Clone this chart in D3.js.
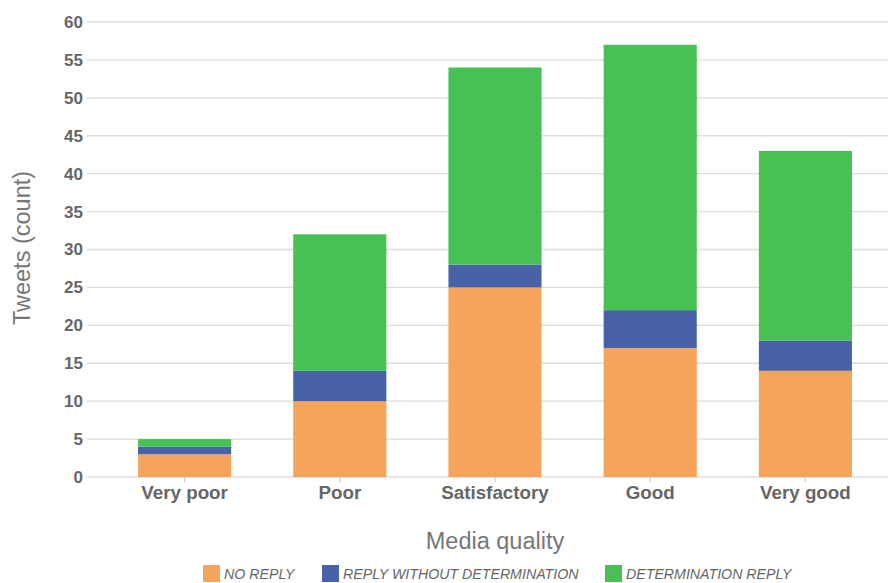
<!DOCTYPE html>
<html><head><meta charset="utf-8">
<script src="https://cdn.jsdelivr.net/npm/d3@7"></script>
<style>body{margin:0;background:#fff;}svg{display:block;font-family:"Liberation Sans",Arial,sans-serif;}</style>
</head><body><svg id="c" width="888" height="583"></svg>
<script>
const categories = ["Very poor","Poor","Satisfactory","Good","Very good"];
const noReply = [3,10,25,17,14];
const replyWithoutDetermination = [1,4,3,5,4];
const determinationReply = [1,18,26,35,25];
const seriesNames = ["NO REPLY","REPLY WITHOUT DETERMINATION","DETERMINATION REPLY"];
const seriesColors = ["#F6A35B","#4762A7","#47C153"];
const yTicks = [0,5,10,15,20,25,30,35,40,45,50,55,60];

const svg = d3.select("#c");
const x = d3.scaleBand().domain(categories).range([107,883]).paddingInner(0.4).paddingOuter(0.2);
const y = d3.scaleLinear().domain([0,60]).range([477,22]);

svg.append("g").selectAll("line").data(yTicks).join("line")
  .attr("x1",87).attr("x2",888).attr("y1",d=>y(d)).attr("y2",d=>y(d))
  .attr("stroke","#dcdcdc").attr("stroke-width",1.3);

svg.append("g").selectAll("text").data(yTicks).join("text")
  .attr("x",83).attr("y",d=>y(d)).attr("dy","0.35em").attr("text-anchor","end")
  .attr("fill","#666").attr("font-weight","bold").attr("font-size",17).text(d=>d);

const rows = categories.map((c,i)=>({cat:c, s0:noReply[i], s1:replyWithoutDetermination[i], s2:determinationReply[i]}));
const stack = d3.stack().keys(["s0","s1","s2"])(rows);
svg.append("g").selectAll("g").data(stack).join("g").attr("fill",(d,i)=>seriesColors[i])
  .selectAll("rect").data(d=>d).join("rect")
  .attr("x",d=>x(d.data.cat)).attr("width",x.bandwidth())
  .attr("y",d=>y(d[1])).attr("height",d=>y(d[0])-y(d[1]));

svg.append("g").selectAll("line").data(categories).join("line")
  .attr("x1",d=>x(d)+x.bandwidth()/2).attr("x2",d=>x(d)+x.bandwidth()/2)
  .attr("y1",477).attr("y2",482).attr("stroke","#ccc").attr("stroke-width",1.3);
svg.append("g").selectAll("text").data(categories).join("text")
  .attr("x",d=>x(d)+x.bandwidth()/2).attr("y",499).attr("text-anchor","middle")
  .attr("fill","#666").attr("font-weight","bold").attr("font-size",18.8).text(d=>d);

svg.append("text").attr("x",495).attr("y",549).attr("text-anchor","middle")
  .attr("fill","#777").attr("font-size",23.5).text("Media quality");
svg.append("text").attr("transform","translate(30,248) rotate(-90)").attr("text-anchor","middle")
  .attr("fill","#777").attr("font-size",23.5).text("Tweets (count)");

const legX = [203,322,605];
const leg = svg.append("g").selectAll("g").data(seriesNames).join("g")
  .attr("transform",(d,i)=>`translate(${legX[i]},565)`);
leg.append("rect").attr("width",17).attr("height",17).attr("fill",(d,i)=>seriesColors[i]);
leg.append("text").attr("x",21).attr("y",14).attr("font-style","italic").attr("font-size",14.2)
  .attr("fill","#666").text(d=>d);
</script></body></html>
